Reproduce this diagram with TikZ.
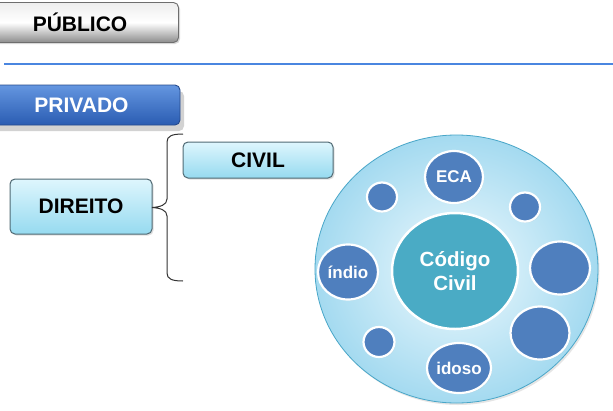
\documentclass[tikz,border=0pt]{standalone}
\usepackage{fontspec}
\setmainfont{Liberation Sans}
\usetikzlibrary{positioning,shapes.geometric,shadows}
\definecolor{sepblue}{RGB}{74,134,224}
\definecolor{pubgray}{RGB}{140,140,140}
\definecolor{pubedge}{RGB}{110,110,110}
\definecolor{privtop}{RGB}{100,150,224}
\definecolor{privbot}{RGB}{42,92,178}
\definecolor{privedge}{RGB}{38,74,140}
\definecolor{boxtop}{RGB}{222,246,253}
\definecolor{boxbot}{RGB}{150,218,240}
\definecolor{boxedge}{RGB}{80,106,116}
\definecolor{ringout}{RGB}{164,218,240}
\definecolor{ringin}{RGB}{240,250,254}
\definecolor{ringedge}{RGB}{72,166,200}
\definecolor{dotblue}{RGB}{79,127,190}
\definecolor{codteal}{RGB}{74,171,197}
\tikzset{node distance=3cm, auto}
\tikzset{
  btn/.style={rounded corners=5pt, line width=0.9pt, minimum width=197pt,
    minimum height=40pt, font=\fontsize{21}{24}\selectfont\bfseries},
  bluebox/.style={rounded corners=5pt, draw=boxedge, line width=1pt,
    top color=boxtop, bottom color=boxbot,
    font=\fontsize{21}{24}\selectfont\bfseries,
    drop shadow={shadow xshift=1.5pt, shadow yshift=-1.5pt, opacity=0.25}},
  dot/.style={ellipse, fill=dotblue, draw=white, line width=2.2pt, inner sep=0pt,
    text=white, font=\fontsize{17}{20}\selectfont\bfseries,
    drop shadow={shadow xshift=1pt, shadow yshift=-1pt, opacity=0.2}}
}

\begin{document}
\begin{tikzpicture}[x=1pt,y=-1pt]
  \clip (0,0) rectangle (613,410);
  \fill[white] (0,0) rectangle (613,410);
  % cabecalho
  \node[btn, draw=pubedge, top color=white!85!pubgray, bottom color=pubgray,
        middle color=white,
        drop shadow={shadow xshift=1.5pt, shadow yshift=-1.5pt, opacity=0.3}]
        (PUB) at (80,22.5) {PÚBLICO};
  \draw[sepblue, line width=1.2pt] (4,64) -- (613,64);
  \node[btn, draw=privedge, top color=privtop, bottom color=privbot, text=white,
        drop shadow={shadow xshift=4pt, shadow yshift=-6pt, opacity=0.35}]
        (PRIV) at (81.5,105) {PRIVADO};
  % direito e chave
  \node[bluebox, minimum width=142pt, minimum height=55pt] (DIR) at (81,206.5) {DIREITO};
  \node[bluebox, minimum width=150pt, minimum height=36pt] (CIV) at (258,160) {CIVIL};
  \coordinate (BRT) at (183,134);
  \coordinate (BRM) at (152,207.5);
  \coordinate (BRB) at (183,281);
  \draw[black!80, line width=1pt] (BRT) .. controls (172,134) and (167,136) .. (167,142)
        -- (167,199) .. controls (167,205) and (160,207) .. (BRM)
        .. controls (160,208) and (167,210) .. (167,216)
        -- (167,273) .. controls (167,279) and (172,281) .. (BRB);
  % codigo civil
  \node[ellipse, minimum width=283pt, minimum height=268pt, draw=ringedge,
        line width=0.8pt, inner color=ringin, outer color=ringout,
        drop shadow={shadow xshift=1.5pt, shadow yshift=-2pt, opacity=0.2}]
        (RING) at (456.5,269) {};
  \node[ellipse, minimum width=126pt, minimum height=116pt, inner sep=0pt,
        fill=codteal, draw=white, line width=2.5pt, text=white, align=center,
        font=\fontsize{20.5}{24}\selectfont\bfseries] (COD) at (455,271) {Código\\Civil};
  \node[dot, minimum width=58pt, minimum height=52pt] (ECA) at (454,177) {ECA};
  \node[dot, minimum width=60pt, minimum height=55pt] (IND) at (348,272) {índio};
  \node[dot, minimum width=58pt, minimum height=50pt] (IDO) at (459,368) {idoso};
  \node[dot, minimum width=30pt, minimum height=29pt] (S1) at (382,197) {};
  \node[dot, minimum width=30pt, minimum height=29pt] (S2) at (525,207) {};
  \node[dot, minimum width=31pt, minimum height=30pt] (S3) at (379,342) {};
  \node[dot, minimum width=60pt, minimum height=53pt] (B1) at (560,268) {};
  \node[dot, minimum width=59pt, minimum height=53pt] (B2) at (540,333) {};
\end{tikzpicture}
\end{document}
